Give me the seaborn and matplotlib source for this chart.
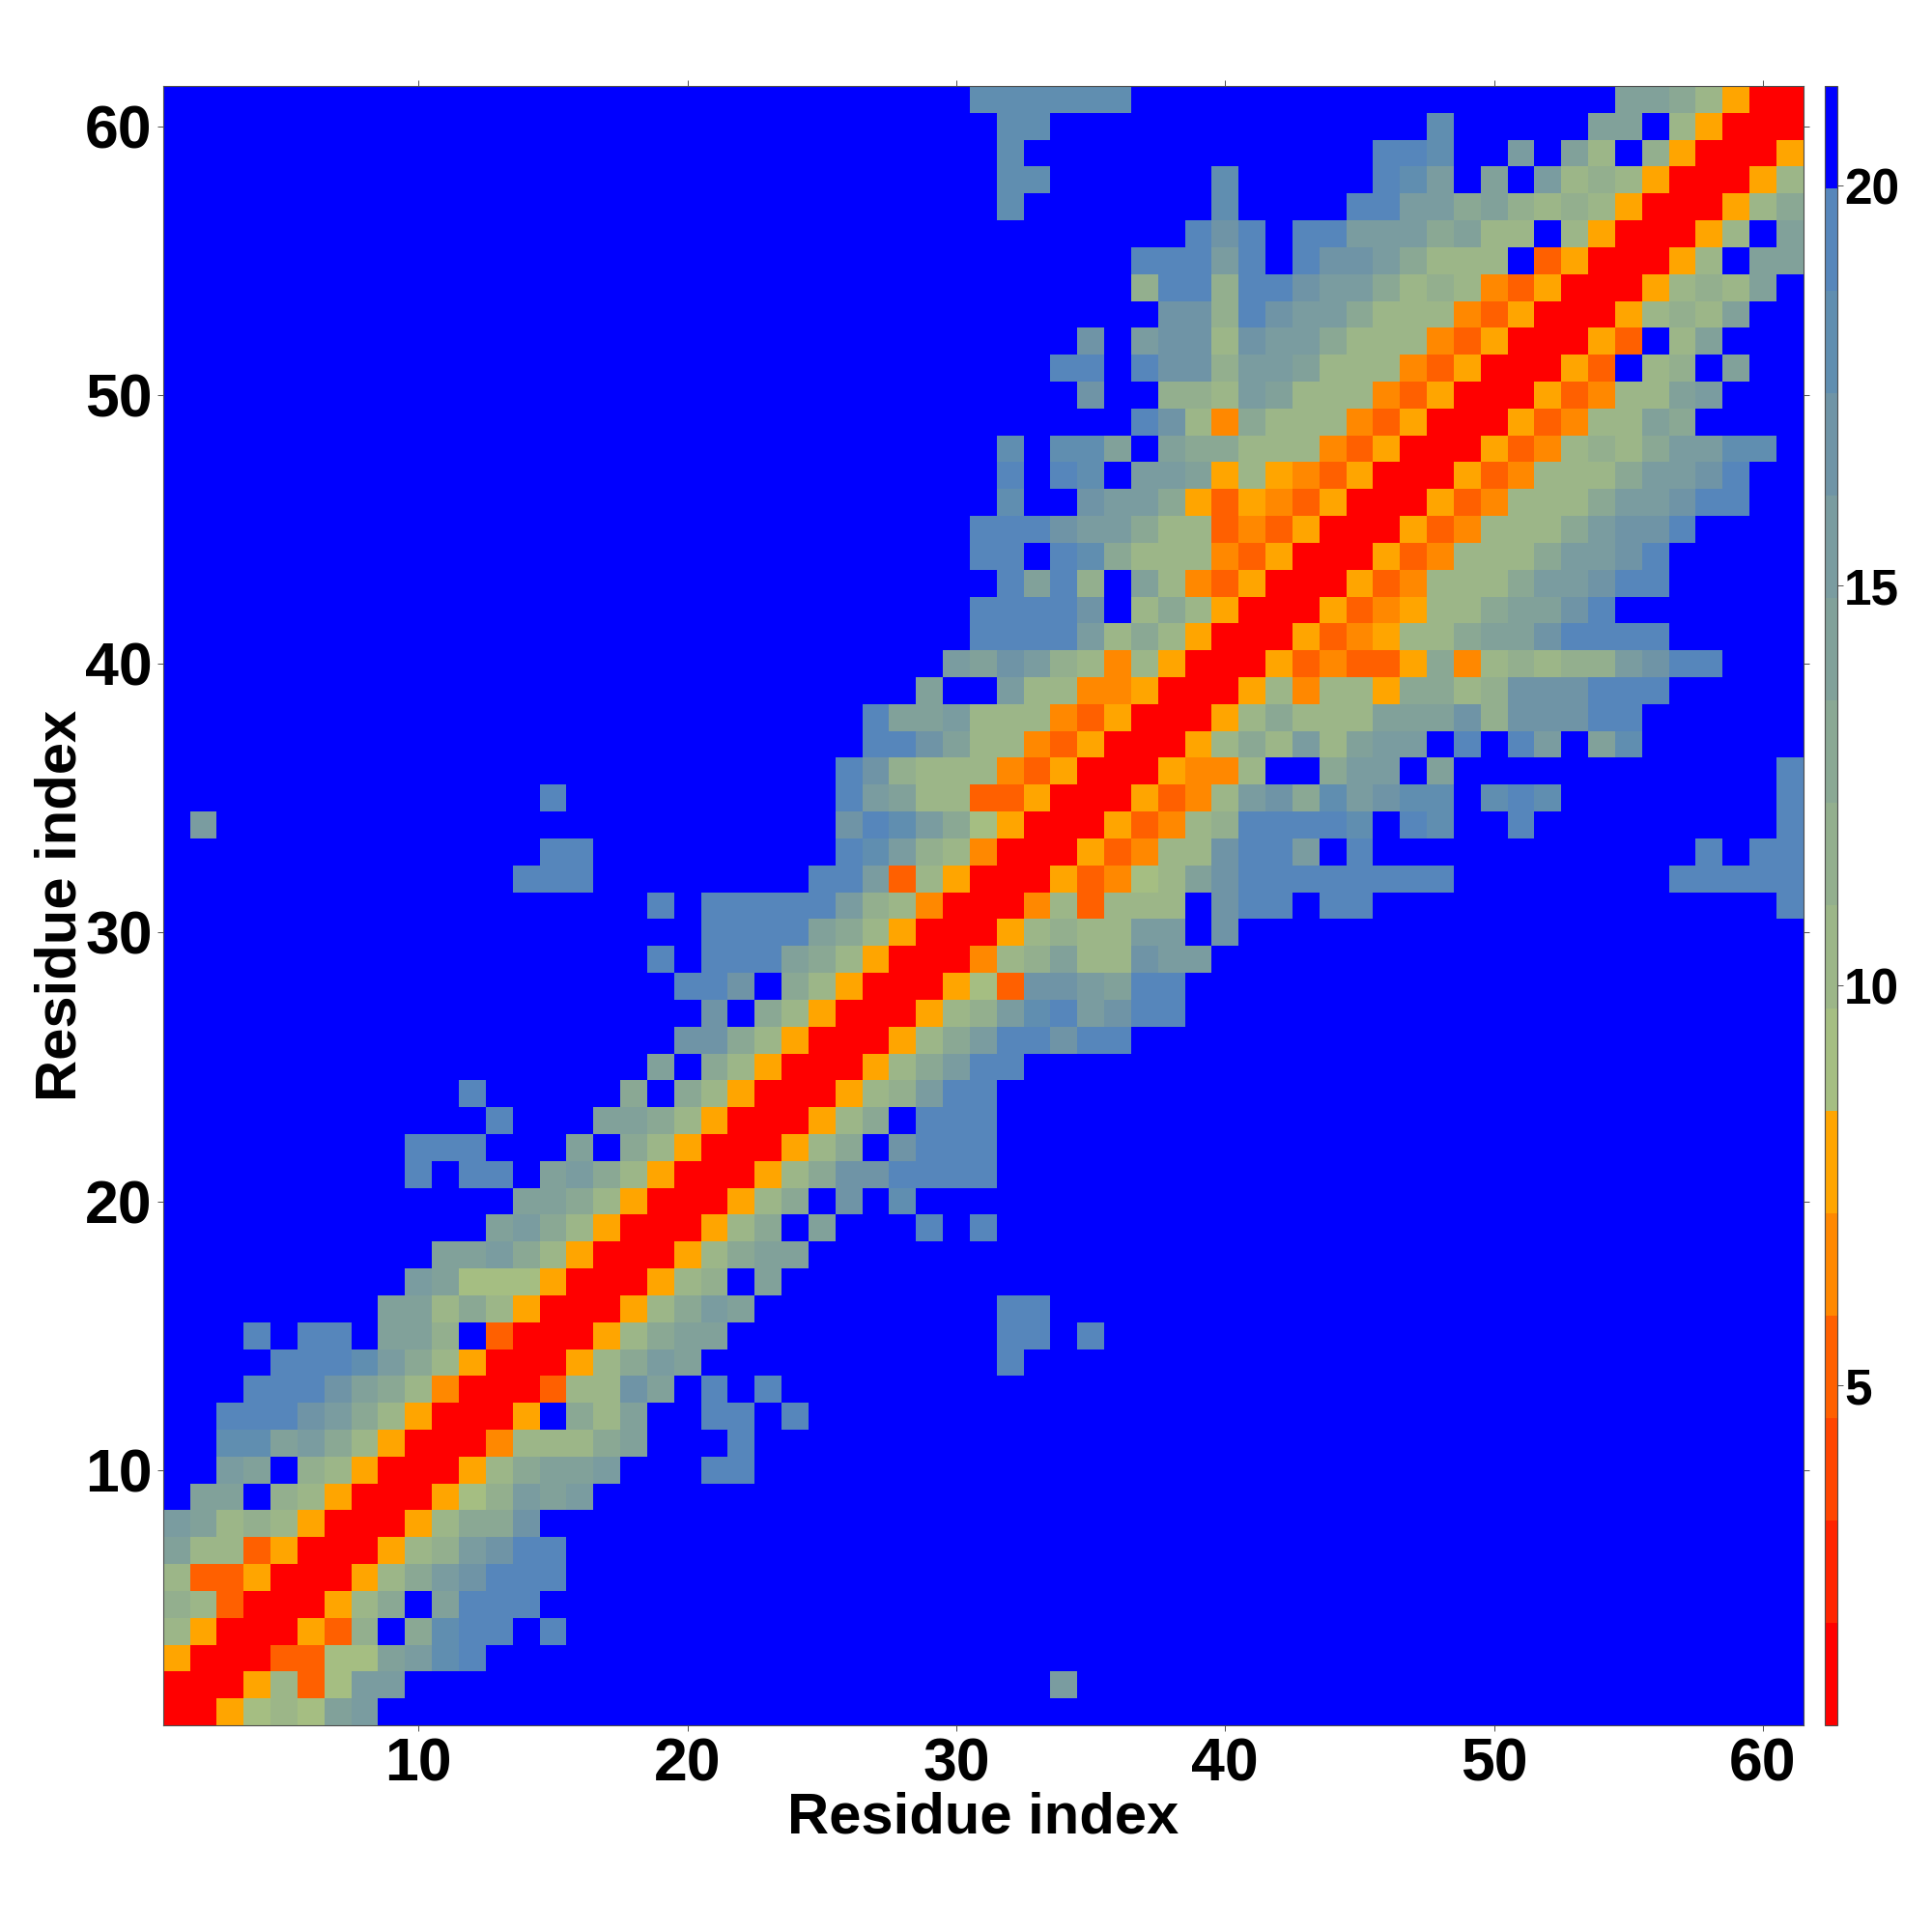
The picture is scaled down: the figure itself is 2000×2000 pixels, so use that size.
import numpy as np
import matplotlib
matplotlib.use("Agg")
import matplotlib.pyplot as plt
from matplotlib.colors import ListedColormap
from matplotlib.transforms import ScaledTranslation
import seaborn as sns

# Distance classes: 16 bins from 0.75 to 21.25, hex code = bin number, f = beyond cutoff
n_res = 61
vmin, vmax = 0.75, 21.25
level_colors = ["#ff0000", "#ff2400", "#ff4500", "#ff6000", "#ff8800", "#ffa500",
                "#a5be82", "#9cb688", "#93af8e", "#8aa894", "#81a19a", "#7a9ca0",
                "#6f94a6", "#608eb0", "#5686bb", "#0000ff"]
colorbar_ticks = [5, 10, 15, 20]
axis_ticks = [10, 20, 30, 40, 50, 60]
axis_label = "Residue index"

# row index -> list of (first column, class codes)
contacts = {
    1: [(1, "005676ab")],
    2: [(1, "0005736bb"), (34, "b")],
    3: [(1, "50003366abde")],
    4: [(1, "75000538f9deefe")],
    5: [(1, "873000579faeee")],
    6: [(1, "7335000579bceee")],
    7: [(1, "a7735000578bcee")],
    8: [(1, "ba78750005799c")],
    9: [(1, "faaf875000568bab")],
    10: [(1, "ffbaf875000579aab"), (21, "ee")],
    11: [(1, "ffddab97500047779a"), (22, "e")],
    12: [(1, "ffeeecb9750005f97a"), (21, "ee"), (24, "e")],
    13: [(1, "fffeeeca974000377ca"), (21, "e"), (23, "e")],
    14: [(1, "ffffeeedb975000579ba"), (32, "e")],
    15: [(1, "fffefeefaa8f3000579aa"), (32, "ee"), (35, "e")],
    16: [(9, "aa7975000579ba"), (32, "ee")],
    17: [(10, "ba6665000578"), (23, "a")],
    18: [(11, "aab975000579aa")],
    19: [(13, "ab975000579fa"), (29, "e"), (31, "e")],
    20: [(14, "aa975000579fcfd")],
    21: [(10, "e"), (12, "ee"), (15, "ab975000579cceeee")],
    22: [(10, "eee"), (16, "af975000579fceee")],
    23: [(13, "e"), (17, "aa975000579feee")],
    24: [(12, "e"), (18, "9f975000578bee")],
    25: [(19, "af975000579bee")],
    26: [(20, "cc975000579beecee")],
    27: [(21, "cf975000578bdebcee")],
    28: [(20, "eecf975000563ccbaee")],
    29: [(19, "e"), (21, "eeea975000478a77cbb")],
    30: [(21, "eeeea97500057877bbfc")],
    31: [(19, "e"), (21, "eeeeeb874000473777fceefee"), (61, "e")],
    32: [(14, "eee"), (25, "eeb37500053467aceeeeeeee"), (57, "eeeee")],
    33: [(15, "ee"), (26, "edb87400053477ceebfe"), (58, "e"), (60, "ee")],
    34: [(2, "b"), (26, "cedb96500053478eeeedfedffe"), (61, "e")],
    35: [(15, "e"), (26, "eba773350005347bc9dbcddfded"), (61, "e")],
    36: [(26, "ec87774350005447ff9bbfa"), (61, "e")],
    37: [(27, "eeca774350005797b7abbfefebfad")],
    38: [(27, "eaab777435000579777aaac8cccee")],
    39: [(29, "a"), (32, "b774450005747759978ccceee")],
    40: [(30, "bacb874750005343359478788bcee")],
    41: [(31, "eeeeb79750005345779aaceeee")],
    42: [(31, "eeeecf79750005345779aace")],
    43: [(32, "eae8fa74350005347779bbcee")],
    44: [(31, "eefed97774350005347779bbce")],
    45: [(31, "eeecbb97734350005347779bcce")],
    46: [(32, "dffcbb95354350005347779bbcee")],
    47: [(32, "efedfbba5754350005347779bbce")],
    48: [(32, "dfddafa997774350005347879bbdd")],
    49: [(37, "ec74977743500053477a9")],
    50: [(35, "c"), (38, "887ba77743500053477ab")],
    51: [(34, "ee"), (37, "ecc8bba77743500053f78fa")],
    52: [(35, "c"), (37, "bcc7cbb977743500053f7a")],
    53: [(38, "cc8ecbb97774350005787a")],
    54: [(37, "8ee8eecbb97874350005787a")],
    55: [(37, "eeebefeccb9777f3500057faa")],
    56: [(39, "ecefeebbb9a77f7500057fa")],
    57: [(32, "d"), (40, "d"), (45, "eebb9a87875000579")],
    58: [(32, "dd"), (40, "d"), (46, "edbfafb787500057")],
    59: [(32, "d"), (46, "eedffbfa7f850005")],
    60: [(32, "dd"), (48, "d"), (54, "aaf75000")],
    61: [(31, "dddddd"), (55, "aa97500")],
}

width = (vmax - vmin) / len(level_colors)
matrix = np.full((n_res, n_res), vmin + 15.5 * width)
for row, segments in contacts.items():
    for start, codes in segments:
        for offset, code in enumerate(codes):
            matrix[row - 1, start - 1 + offset] = vmin + (int(code, 16) + 0.5) * width

sns.set_theme(style="white")
plt.rcParams["font.family"] = ["Liberation Sans", "DejaVu Sans"]
plt.rcParams["font.weight"] = "bold"

EDGE = "#4d4d4d"
fig = plt.figure(figsize=(20, 20), dpi=100, facecolor="white")
ax = fig.add_axes([168.8 / 2000, 214 / 2000, 1698 / 2000, 1697 / 2000])
cax = fig.add_axes([1889 / 2000, 214 / 2000, 13 / 2000, 1697 / 2000])

sns.heatmap(matrix, ax=ax, cbar_ax=cax, cmap=ListedColormap(level_colors),
            vmin=vmin, vmax=vmax, square=False, linewidths=0,
            cbar_kws={"ticks": colorbar_ticks})
ax.invert_yaxis()

positions = [t - 0.5 for t in axis_ticks]
ax.set_xticks(positions, labels=axis_ticks, rotation=0)
ax.set_yticks(positions, labels=axis_ticks, rotation=0)
ax.tick_params(axis="both", which="major", direction="out", length=4, width=0.7, color=EDGE,
               top=True, right=True, bottom=True, left=True, labelsize=45, pad=4,
               labelcolor="black")
shift_down = ScaledTranslation(0, -6 / 100, fig.dpi_scale_trans)
for lab in ax.get_xticklabels() + ax.get_yticklabels():
    lab.set_fontweight("bold")
for lab in ax.get_yticklabels():
    lab.set_transform(lab.get_transform() + shift_down)
for spine in ax.spines.values():
    spine.set_visible(True)
    spine.set_color(EDGE)
    spine.set_linewidth(0.8)

ax.set_xlabel(axis_label, fontsize=43, fontweight="bold", color="black", labelpad=-1.5)
ax.set_ylabel(axis_label, fontsize=43, fontweight="bold", color="black", labelpad=-1.5)

cbar = ax.collections[0].colorbar
cbar.outline.set_visible(True)
cbar.outline.set_edgecolor(EDGE)
cbar.outline.set_linewidth(0.8)
cax.tick_params(direction="out", length=4, width=0.7, color=EDGE, labelsize=37, pad=1,
                right=True, labelcolor="black")
for lab in cax.get_yticklabels():
    lab.set_fontweight("bold")

fig.savefig("out.png", dpi=100, facecolor="white")
